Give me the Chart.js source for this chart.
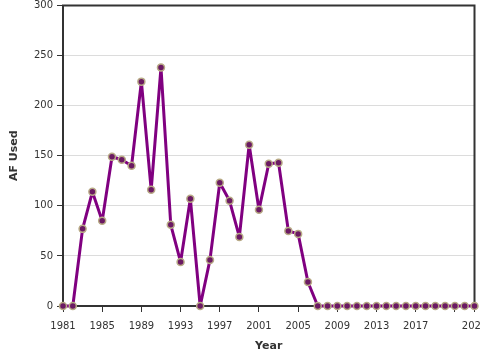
<!DOCTYPE html>
<html>
<head>
<meta charset="utf-8">
<script src="https://cdn.jsdelivr.net/npm/chart.js@4/dist/chart.umd.min.js"></script>
<style>
  html, body { margin: 0; padding: 0; background: #fff; }
  #wrap { width: 480px; height: 360px; }
</style>
</head>
<body>
<div id="wrap"><canvas id="chart"></canvas></div>
<script>
// AF used per year
const years = [
  1981, 1982, 1983, 1984, 1985, 1986, 1987, 1988, 1989, 1990,
  1991, 1992, 1993, 1994, 1995, 1996, 1997, 1998, 1999, 2000,
  2001, 2002, 2003, 2004, 2005, 2006, 2007, 2008, 2009, 2010,
  2011, 2012, 2013, 2014, 2015, 2016, 2017, 2018, 2019, 2020,
  2021, 2022, 2023
];
const afUsed = [
  0, 0, 77, 114, 85, 149, 146, 140, 224, 116,
  238, 81, 44, 107, 0, 46, 123, 105, 69, 161,
  96, 142, 143, 75, 72, 24, 0, 0, 0, 0,
  0, 0, 0, 0, 0, 0, 0, 0, 0, 0,
  0, 0, 0
];
const xTicks = [1981, 1985, 1989, 1993, 1997, 2001, 2005, 2009, 2013, 2017, 2021, 2023];
const xLabelSkip = [2021];   // tick mark only, label overlaps 2023
const yTicks = [0, 50, 100, 150, 200, 250, 300];

const FONT = 'DejaVu Sans';
const INK = '#333';

// frame around the plot area (top and right edges)
const frame = {
  id: 'frame',
  beforeDatasetsDraw(chart) {
    const { ctx, chartArea: a } = chart;
    ctx.save();
    ctx.strokeStyle = INK;
    ctx.lineWidth = 2;
    ctx.strokeRect(a.left, a.top, a.right - a.left, a.bottom - a.top);
    ctx.restore();
  }
};

new Chart(document.getElementById('chart'), {
  type: 'line',
  data: {
    datasets: [{
      label: 'AF Used',
      data: years.map((y, i) => ({ x: y, y: afUsed[i] })),
      borderColor: '#800080',
      borderWidth: 3,
      borderJoinStyle: 'round',
      borderCapStyle: 'round',
      pointRadius: 3.5,
      pointBackgroundColor: '#6b1a63',
      pointBorderColor: '#b8aa86',
      pointBorderWidth: 1.5,
      tension: 0,
      clip: false
    }]
  },
  plugins: [frame],
  options: {
    responsive: true,
    maintainAspectRatio: false,
    animation: false,
    layout: { padding: { top: 4, right: 3, left: 0, bottom: 0 } },
    plugins: {
      legend: { display: false },
      tooltip: { enabled: false }
    },
    scales: {
      x: {
        type: 'linear',
        min: 1981,
        max: 2023,
        afterBuildTicks: s => { s.ticks = xTicks.map(v => ({ value: v })); },
        afterFit: s => { s.height = 54; s.paddingRight = 0; s.paddingLeft = 0; },
        ticks: {
          autoSkip: false,
          maxRotation: 0,
          padding: 8,
          color: INK,
          font: { family: FONT, size: 10 },
          callback: v => xLabelSkip.includes(v) ? '' : String(v)
        },
        grid: { drawOnChartArea: false, tickLength: 6, tickColor: INK, tickWidth: 1 },
        border: { color: INK, width: 2 },
        title: {
          display: true,
          text: 'Year',
          color: INK,
          font: { family: FONT, size: 11, weight: 'bold' },
          padding: { top: 0, bottom: 7 }
        }
      },
      y: {
        min: 0,
        max: 300,
        afterBuildTicks: s => { s.ticks = yTicks.map(v => ({ value: v })); },
        afterFit: s => { s.width = 63; s.paddingTop = 0; s.paddingBottom = 0; },
        ticks: {
          padding: 4,
          color: INK,
          font: { family: FONT, size: 10 }
        },
        grid: { color: '#dcdcdc', lineWidth: 1, tickLength: 6, tickColor: INK, tickWidth: 1 },
        border: { color: INK, width: 2 },
        title: {
          display: true,
          text: 'AF Used',
          color: INK,
          font: { family: FONT, size: 11, weight: 'bold' },
          padding: { top: 8, bottom: 0 }
        }
      }
    }
  }
});
</script>
</body>
</html>
